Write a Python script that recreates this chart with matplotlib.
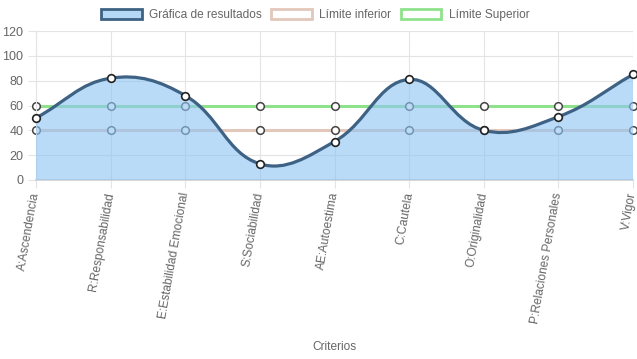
import numpy as np
import matplotlib
matplotlib.use('Agg')
import matplotlib.pyplot as plt
from matplotlib.path import Path
from matplotlib.patches import PathPatch, Rectangle

# ============================== Data ============================== #
criterios = ['A:Ascendencia', 'R:Responsabilidad', 'E:Estabilidad Emocional',
             'S:Sociabilidad', 'AE:Autoestima', 'C:Cautela', 'O:Originalidad',
             'P:Relaciones Personales', 'V:Vigor']
resultados = [50, 82, 68, 13, 31, 81, 40, 51, 85]
limite_inferior = [40, 40, 40, 40, 40, 40, 40, 40, 40]
limite_superior = [60, 60, 60, 60, 60, 60, 60, 60, 60]
y_ticks = [0, 20, 40, 60, 80, 100, 120]

line_color = '#3e6284'
fill_color = '#8fc5f3'
legend_fill = '#b5d8f6'
inf_color = '#e4c7bb'
sup_color = '#8ee28c'
grid_color = '#e4e4e4'
text_color = '#666666'

plt.rcParams['font.family'] = ['Liberation Sans', 'DejaVu Sans']

fig = plt.figure(figsize=(6.37, 3.59), dpi=100)
ax = fig.add_axes([36 / 637, 1 - 180 / 359, 597 / 637, 149 / 359])
x = np.arange(len(criterios))
ax.set_xlim(0, len(criterios) - 1)
ax.set_ylim(0, 120)


# chart.js style spline (tension 0.4), computed in pixel space
def spline_path(xs, ys, tension=0.4):
    pts = ax.transData.transform(np.column_stack([xs, ys]))
    n = len(pts)
    verts = [pts[0]]
    codes = [Path.MOVETO]
    ctrl = []
    for i in range(n):
        prev = pts[i - 1] if i > 0 else pts[i]
        cur = pts[i]
        nxt = pts[i + 1] if i < n - 1 else pts[i]
        d01 = np.hypot(*(cur - prev))
        d12 = np.hypot(*(nxt - cur))
        tot = d01 + d12
        s01 = d01 / tot if tot else 0
        s12 = d12 / tot if tot else 0
        fa = tension * s01
        fb = tension * s12
        ctrl.append((cur - fa * (nxt - prev), cur + fb * (nxt - prev)))
    for i in range(1, n):
        verts += [ctrl[i - 1][1], ctrl[i][0], pts[i]]
        codes += [Path.CURVE4] * 3
    inv = ax.transData.inverted()
    return inv.transform(np.array(verts)), codes


verts, codes = spline_path(x, resultados)

# limits (drawn under the filled series)
ax.plot(x, limite_inferior, color=inf_color, lw=2.2, zorder=2, clip_on=False,
        marker='o', ms=5.5, mfc='white', mec='#444444', mew=1.1)
ax.plot(x, limite_superior, color=sup_color, lw=2.2, zorder=2, clip_on=False,
        marker='o', ms=5.5, mfc='white', mec='#444444', mew=1.1)

# filled area to zero
fill_verts = np.vstack([verts, [[x[-1], 0], [x[0], 0], verts[0]]])
fill_codes = codes + [Path.LINETO, Path.LINETO, Path.CLOSEPOLY]
ax.add_patch(PathPatch(Path(fill_verts, fill_codes), facecolor=fill_color,
                       edgecolor='none', alpha=0.62, zorder=3))
ax.add_patch(PathPatch(Path(verts, codes), facecolor='none',
                       edgecolor=line_color, lw=2.3, zorder=4))
ax.plot(x, resultados, ls='none', marker='o', ms=5.5, mfc='white',
        mec='#222222', mew=1.2, zorder=5, clip_on=False)

# axes styling
ax.set_xticks(x)
ax.set_xticklabels(criterios, rotation=80, ha='right', va='center',
                   rotation_mode='anchor', color=text_color, fontsize=8.6)
ax.set_yticks(y_ticks)
ax.set_yticklabels([str(v) for v in y_ticks], color=text_color, fontsize=9)
ax.tick_params(axis='both', length=6, color=grid_color, width=0.8, pad=3)
ax.grid(True, color=grid_color, lw=0.8)
ax.set_axisbelow(True)
for side in ['top', 'right']:
    ax.spines[side].set_visible(False)
ax.spines['left'].set_color(grid_color)
ax.spines['bottom'].set_color('#cfcfcf')
ax.spines['bottom'].set_linewidth(1.2)
ax.set_xlabel('Criterios', color=text_color, fontsize=8.6, va='center')
ax.xaxis.set_label_coords(0.5, -1.12)

# legend
handles = [Rectangle((0, 0), 1, 1, facecolor=legend_fill, edgecolor=line_color, lw=2),
           Rectangle((0, 0), 1, 1, facecolor='white', edgecolor=inf_color, lw=2),
           Rectangle((0, 0), 1, 1, facecolor='white', edgecolor=sup_color, lw=2)]
labels = ['Gráfica de resultados', 'Límite inferior', 'Límite Superior']
fig.legend(handles, labels, loc='center', bbox_to_anchor=(0.495, 1 - 15 / 359),
           ncol=3, frameon=False, fontsize=8.6, handlelength=3.4,
           handleheight=1.0, handletextpad=0.6, columnspacing=0.8,
           labelcolor=text_color)

fig.savefig('out.png', dpi=100)
